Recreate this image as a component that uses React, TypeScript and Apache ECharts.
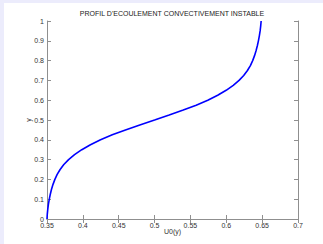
import React, { useEffect, useRef } from "react";
import * as echarts from "echarts";

const yValues = [
  0, 0.025, 0.05, 0.075, 0.1, 0.125, 0.15, 0.175, 0.2, 0.225, 0.25, 0.275, 0.3, 0.325, 0.35, 0.375, 0.4, 0.425, 0.45, 0.475,
  0.5, 0.525, 0.55, 0.575, 0.6, 0.625, 0.65, 0.675, 0.7, 0.725, 0.75, 0.775, 0.8, 0.825, 0.85, 0.875, 0.9, 0.925, 0.95, 0.975, 1,
];
const uValues = [
  0.35, 0.3504, 0.3511, 0.352, 0.3532, 0.3546, 0.3563, 0.3584, 0.361, 0.3642, 0.3683, 0.3735, 0.3801, 0.3884, 0.3985, 0.4106, 0.4247, 0.441, 0.4594, 0.4794,
  0.5, 0.5204, 0.54, 0.558, 0.5742, 0.588, 0.5998, 0.6097, 0.6178, 0.6243, 0.6295, 0.6336, 0.6368, 0.6394, 0.6415, 0.6433, 0.6448, 0.6461, 0.6472, 0.648, 0.6486,
];
const xTickLabels = ["0.35", "0.4", "0.45", "0.5", "0.55", "0.6", "0.65", "0.7"];
const yTickLabels = ["0", "0.1", "0.2", "0.3", "0.4", "0.5", "0.6", "0.7", "0.8", "0.9", "1"];
const titleText = "PROFIL D'ECOULEMENT CONVECTIVEMENT INSTABLE";
const xName = "U0(y)";
const yName = "y";

export default function App() {
  const ref = useRef<HTMLDivElement>(null);
  useEffect(() => {
    document.body.style.margin = "0";
    const chart = echarts.init(ref.current!, undefined, { renderer: "svg" });
    const font = "Liberation Sans, Arial, sans-serif";
    const axisLine = { show: true, lineStyle: { color: "#8f8f8f", width: 1 } };
    const tick = { show: true, inside: true, length: 4, lineStyle: { color: "#8f8f8f" } };
    const xLab = (v: number) => {
      const i = Math.round((v - 0.35) / 0.05);
      return xTickLabels[i] ?? "";
    };
    const yLab = (v: number) => {
      const i = Math.round(v / 0.1);
      return yTickLabels[i] ?? "";
    };
    chart.setOption({
      animation: false,
      backgroundColor: "#ffffff",
      title: {
        text: titleText,
        left: 172,
        top: 10,
        padding: 0,
        textAlign: "center",
        textStyle: { fontFamily: font, fontSize: 7, fontWeight: "normal", color: "#222" },
      },
      graphic: [
        { type: "rect", left: 0, top: 0, shape: { width: 323, height: 3 }, style: { fill: "#ececfc" } },
        { type: "rect", left: 0, top: 0, shape: { width: 4, height: 244 }, style: { fill: "#ececfc" } },
      ],
      grid: { left: 47, top: 21, width: 251, height: 198 },
      xAxis: [
        {
          type: "value",
          position: "bottom",
          min: 0.35,
          max: 0.7,
          interval: 0.05,
          axisLine,
          axisTick: tick,
          splitLine: { show: false },
          axisLabel: { formatter: xLab, fontFamily: font, fontSize: 7, color: "#333", margin: 3 },
          name: xName,
          nameLocation: "middle",
          nameGap: 9,
          nameMoveOverlap: false,
          nameTextStyle: { fontFamily: font, fontSize: 7, color: "#333" },
        },
        {
          type: "value",
          position: "top",
          min: 0.35,
          max: 0.7,
          interval: 0.05,
          axisLine,
          axisTick: tick,
          splitLine: { show: false },
          axisLabel: { show: false },
        },
      ],
      yAxis: [
        {
          type: "value",
          position: "left",
          min: 0,
          max: 1,
          interval: 0.1,
          axisLine,
          axisTick: tick,
          splitLine: { show: false },
          axisLabel: { formatter: yLab, fontFamily: font, fontSize: 7, color: "#333", margin: 3 },
          name: yName,
          nameLocation: "middle",
          nameGap: 15,
          nameRotate: 90,
          nameMoveOverlap: false,
          nameTextStyle: { fontFamily: font, fontSize: 7, color: "#333" },
        },
        {
          type: "value",
          position: "right",
          min: 0,
          max: 1,
          interval: 0.1,
          axisLine,
          axisTick: tick,
          splitLine: { show: false },
          axisLabel: { show: false },
        },
      ],
      series: [
        {
          type: "line",
          data: yValues.map((y, i) => [uValues[i], y]),
          showSymbol: false,
          smooth: false,
          lineStyle: { color: "#0000ff", width: 1.6 },
          clip: false,
        },
      ],
    });
    return () => chart.dispose();
  }, []);
  return <div ref={ref} style={{ position: "absolute", left: 0, top: 0, width: 323, height: 244 }} />;
}
